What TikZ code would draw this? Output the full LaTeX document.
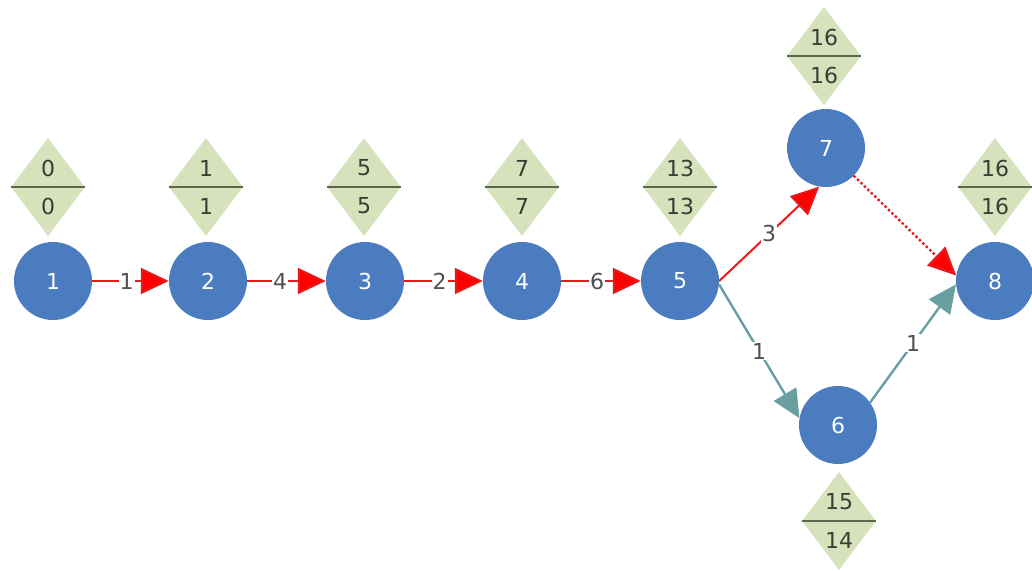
\documentclass[tikz,border=0pt]{standalone}
\usepackage{fontspec}
\setmainfont{DejaVu Sans}
\usetikzlibrary{arrows.meta,shapes.geometric}
\definecolor{nodeblue}{HTML}{4A7CBF}
\definecolor{dgreen}{HTML}{D5E2BC}
\definecolor{dline}{HTML}{5C6650}
\definecolor{dtext}{HTML}{3C3C34}
\definecolor{critred}{HTML}{E8191B}
\definecolor{teal}{HTML}{6A9FA2}
\definecolor{lbl}{HTML}{505050}
\tikzset{
  ev/.style={circle,fill=nodeblue,minimum size=78pt,inner sep=0pt,text=white,font=\fontsize{22}{22}\selectfont},
  dia/.style={diamond,fill=dgreen,minimum width=74pt,minimum height=98pt,inner sep=0pt,aspect=0.75},
  dnum/.style={text=dtext,font=\fontsize{22}{22}\selectfont,inner sep=0pt},
  crit/.style={draw=critred,line width=2pt,-{Triangle[length=28pt,width=26pt,fill=red]}},
  nonc/.style={draw=teal,line width=2.4pt,-{Triangle[length=28pt,width=26pt]}},
  elab/.style={fill=white,text=lbl,inner sep=1pt,font=\fontsize{22}{22}\selectfont},
}
\newcommand{\evdiamond}[4]{%
  \node[dia] (#1) at (#2) {};
  \draw[dline,line width=1.6pt] (#1.west) -- (#1.east);
  \node[dnum] (#1u) at ([yshift=19pt]#1.center) {#3};
  \node[dnum] (#1l) at ([yshift=-19pt]#1.center) {#4};
}
\begin{document}
\begin{tikzpicture}[x=1pt,y=-1pt]
\useasboundingbox (0,0) rectangle (1032,572);
% events
\node[ev] (n1) at (53,281) {1};
\node[ev] (n2) at (208,281) {2};
\node[ev] (n3) at (365,281) {3};
\node[ev] (n4) at (522,281) {4};
\node[ev] (n5) at (680,281) {5};
\node[ev] (n7) at (826,148) {7};
\node[ev] (n8) at (995,281) {8};
\node[ev] (n6) at (838,425) {6};
% diamonds
\evdiamond{d1}{48,187}{0}{0}
\evdiamond{d2}{206,187}{1}{1}
\evdiamond{d3}{364,187}{5}{5}
\evdiamond{d4}{522,187}{7}{7}
\evdiamond{d5}{680,187}{13}{13}
\evdiamond{d7}{824,56}{16}{16}
\evdiamond{d8}{995,187}{16}{16}
\evdiamond{d6}{839,521}{15}{14}
% edges
\draw[crit] (n1) -- node[elab,pos=0.45]{1} (n2);
\draw[crit] (n2) -- node[elab,pos=0.42]{4} (n3);
\draw[crit] (n3) -- node[elab,pos=0.45]{2} (n4);
\draw[crit] (n4) -- node[elab,pos=0.45]{6} (n5);
\draw[crit] (n5.east) -- node[elab,pos=0.5]{3} (n7.-100);
\draw[crit,line width=2.4pt,dash pattern=on 2.4pt off 2.4pt] (n7.-45) -- (n8.172);
\draw[nonc] (n5.-5) -- node[elab,pos=0.5]{1} (n6.170);
\draw[nonc] (n6.35) -- node[elab,pos=0.5]{1} (n8.185);
\end{tikzpicture}
\end{document}
